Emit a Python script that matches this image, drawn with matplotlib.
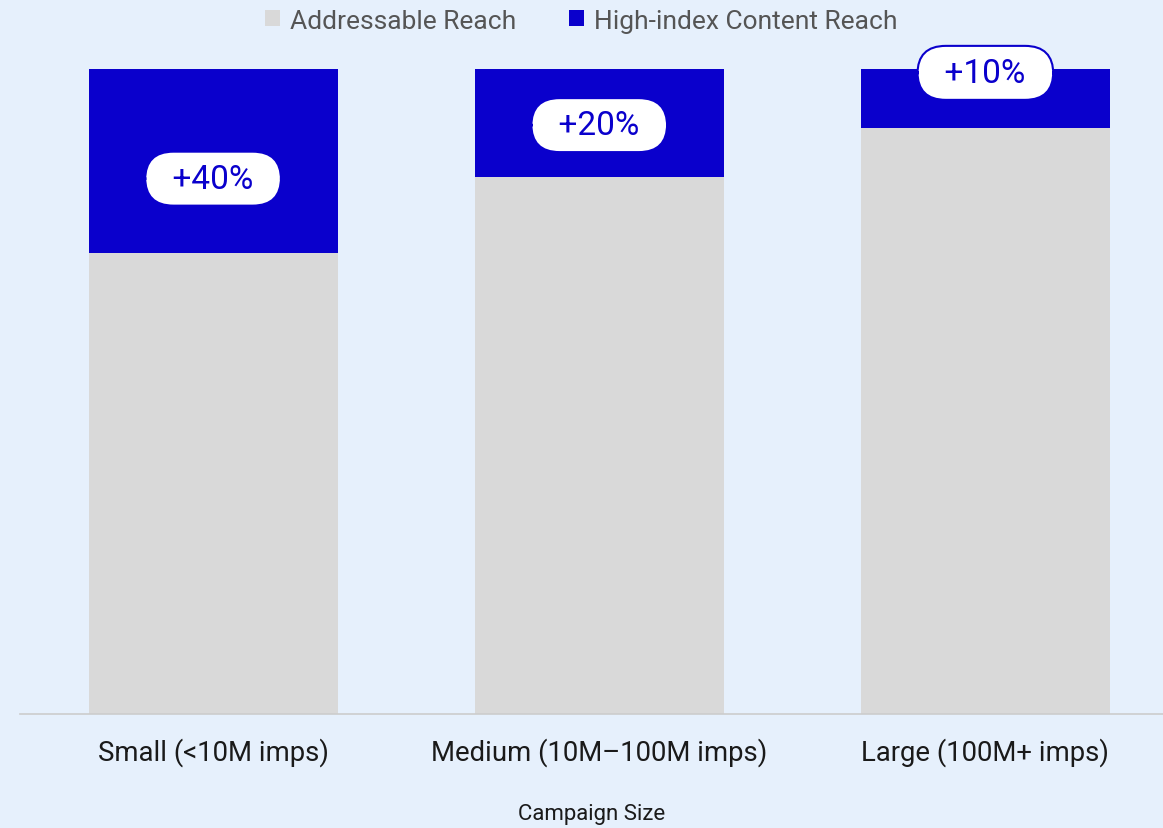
import matplotlib
matplotlib.use("Agg")
import matplotlib.pyplot as plt

categories = ["Small (<10M imps)", "Medium (10M–100M imps)", "Large (100M+ imps)"]
addressable = [71.4, 83.3, 90.9]
high_index = [28.6, 16.7, 9.1]
uplift_labels = ["+40%", "+20%", "+10%"]

BG = "#E6F0FC"
GRAY = "#D9D9D9"
BLUE = "#0A00CC"

plt.rcParams["font.family"] = ["Roboto", "DejaVu Sans"]

fig = plt.figure(figsize=(11.63, 8.29), dpi=100, facecolor=BG)
ax = fig.add_axes([20 / 1163, 114 / 829, 1 - 20 / 1163, (715 - 70) / 829])
ax.set_facecolor(BG)

x = list(range(len(categories)))
ax.bar(x, addressable, width=0.645, color=GRAY, label="Addressable Reach", zorder=2)
ax.bar(x, high_index, bottom=addressable, width=0.645, color=BLUE,
       label="High-index Content Reach", zorder=2)

label_y = [83.0, 91.3, 99.4]
for xi, lab, yy in zip(x, uplift_labels, label_y):
    ax.text(xi, yy, "  " + lab + "  ", ha="center", va="center", fontsize=24,
            color=BLUE, zorder=5, clip_on=False,
            bbox=dict(boxstyle="round,pad=0.33,rounding_size=0.85",
                      facecolor="white", edgecolor=BLUE, linewidth=1.5))

ax.set_xlim(-0.5, 2.46)
ax.set_ylim(0, 100)
ax.set_yticks([])
for s in ["top", "right", "left"]:
    ax.spines[s].set_visible(False)
ax.spines["bottom"].set_color("#CCCCCC")
ax.spines["bottom"].set_linewidth(1.2)
ax.set_xticks(x)
ax.set_xticklabels(categories, fontsize=19.8, color="#1A1A1A")
ax.tick_params(axis="x", length=0, pad=17)
ax.set_xlabel("Campaign Size", fontsize=16, color="#1A1A1A", labelpad=26)

fig.legend(loc="upper center", bbox_to_anchor=(0.5, 1.017), ncol=2, frameon=False,
           fontsize=19, labelcolor="#555555", handlelength=0.55, handleheight=0.55,
           handletextpad=0.4, columnspacing=2.0)

fig.savefig("out.png", dpi=100, facecolor=BG)
